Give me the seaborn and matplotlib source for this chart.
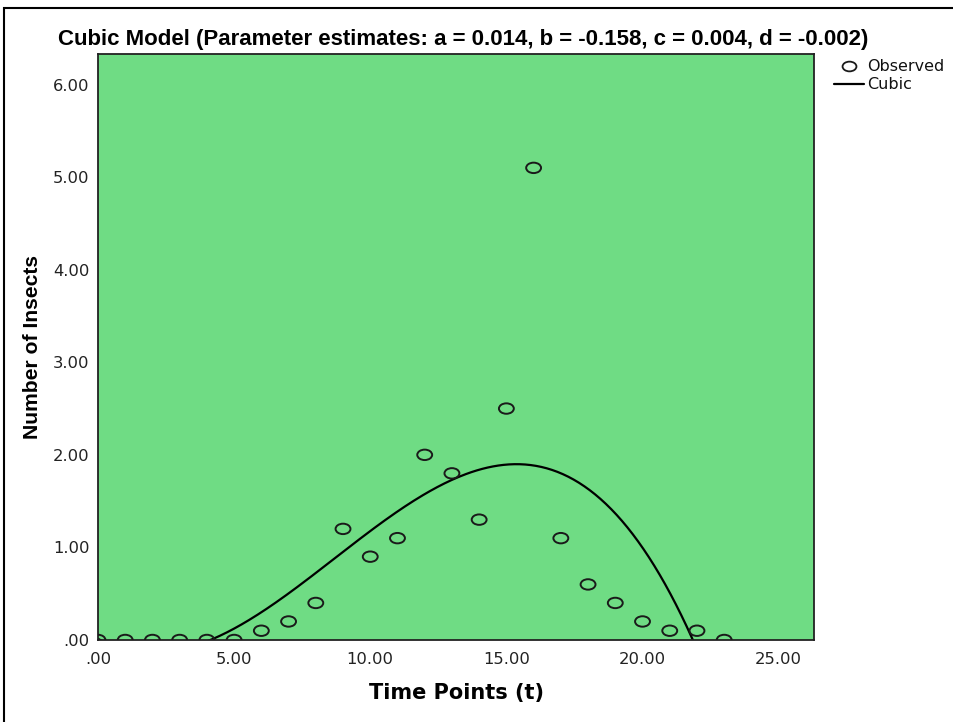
import numpy as np
import pandas as pd
import matplotlib
matplotlib.use('Agg')
import matplotlib.pyplot as plt
import seaborn as sns
from matplotlib.patches import Rectangle
from matplotlib.lines import Line2D
from matplotlib.path import Path
from matplotlib.markers import MarkerStyle

# Observed data
time_points = list(range(24))
insects = [0, 0, 0, 0, 0, 0, 0.1, 0.2, 0.4, 1.2, 0.9, 1.1,
           2.0, 1.8, 1.3, 2.5, 5.1, 1.1, 0.6, 0.4, 0.2, 0.1, 0.1, 0]
x_ticks = [0, 5, 10, 15, 20, 25]
x_tick_labels = ['.00', '5.00', '10.00', '15.00', '20.00', '25.00']
y_ticks = [0, 1, 2, 3, 4, 5, 6]
y_tick_labels = ['.00', '1.00', '2.00', '3.00', '4.00', '5.00', '6.00']
title = 'Cubic Model (Parameter estimates: a = 0.014, b = -0.158, c = 0.004, d = -0.002)'

df = pd.DataFrame({'t': time_points, 'y': insects})

sns.set_style('white')
plt.rcParams['font.family'] = ['DejaVu Sans']

# slightly flattened circle, like the source image
circ = Path.unit_circle()
oval = MarkerStyle(Path(circ.vertices * [1.0, 0.7], circ.codes))

fig = plt.figure(figsize=(9.54, 7.22), dpi=100)
ax = fig.add_axes([0.1027, 0.1136, 0.7506, 0.8116])
ax.set_facecolor('#6FDC84')

# cubic fit from the observed data
coef = np.polyfit(df['t'], df['y'], 3)
grid = np.linspace(0, 26.3, 400)
fit = pd.DataFrame({'t': grid, 'y': np.polyval(coef, grid)})
sns.lineplot(data=fit, x='t', y='y', ax=ax, color='black', linewidth=1.6)

sns.scatterplot(data=df, x='t', y='y', ax=ax, marker=oval, s=115,
                facecolors='none', edgecolor='#1a1a1a', linewidth=1.4, zorder=3)

ax.set_xlim(0, 26.3)
ax.set_ylim(0, 6.33)
ax.set_xticks(x_ticks)
ax.set_xticklabels(x_tick_labels)
ax.set_yticks(y_ticks)
ax.set_yticklabels(y_tick_labels)
ax.tick_params(axis='both', direction='out', length=6, width=1.6,
               color='#222222', labelsize=11.8, labelcolor='#222222', pad=0)
ax.tick_params(axis='x', pad=3)
for s in ax.spines.values():
    s.set_color('#222222')
    s.set_linewidth(1.3)

ax.set_xlabel('Time Points (t)', fontsize=15, fontweight='bold', labelpad=11,
              color='black')
ax.set_ylabel('Number of Insects', fontsize=15.2, fontweight='bold',
              family='Liberation Sans', labelpad=8, color='black')
fig.text(0.486, 0.9446, title, ha='center', va='center', fontsize=16,
         fontweight='bold', family='Liberation Sans', color='black')

# legend outside plot area
handles = [Line2D([], [], marker=oval, linestyle='none', markerfacecolor='none',
                  markeredgecolor='#1a1a1a', markersize=10, markeredgewidth=1.3),
           Line2D([], [], color='black', linewidth=1.6)]
leg = fig.legend(handles, ['Observed', 'Cubic'], loc='upper left',
                 bbox_to_anchor=(0.874, 0.918), frameon=False, fontsize=11.5,
                 handlelength=1.9, handletextpad=0.2, labelspacing=0.2,
                 borderpad=0, borderaxespad=0)
for t in leg.get_texts():
    t.set_color('#111111')

# outer frame
fig.patches.append(Rectangle((4 / 954, -0.05), 1.2, 1 - 8 / 722 + 0.05,
                             transform=fig.transFigure, fill=False,
                             edgecolor='black', linewidth=1.5))

fig.savefig('out.png', dpi=100, facecolor='white')
